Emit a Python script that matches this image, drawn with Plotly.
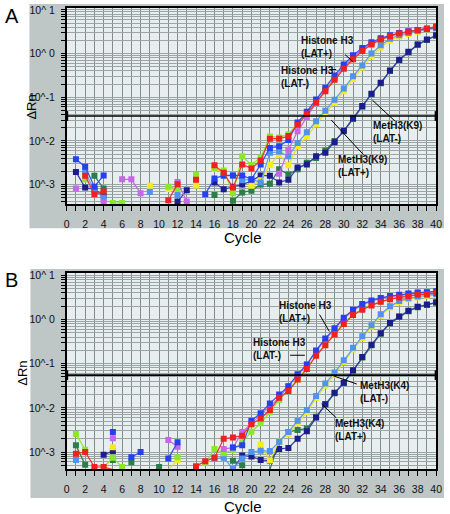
import plotly.graph_objects as go

W, H = 450, 514
N = None
cycles = list(range(1, 41))

# ---------------- Panel A : log10(dRn) per cycle 1..40 ----------------
a_red = [N, -2.80, -3.22, -3.16, N, N, N, N, N, N, -3.36, -2.99, N, -2.89, N, -2.56, -2.73, -3.07, -2.54, -2.63,
         -2.45, -1.95, -1.95, -1.89, -1.63, -1.38, -1.12, -0.86, -0.60, -0.35, -0.13, 0.06, 0.21, 0.32, 0.40, 0.46, 0.50, 0.54, 0.57, 0.62]
a_blue = [-2.42, -2.59, -3.05, -2.79, N, N, N, N, N, N, N, N, N, N, -3.22, -2.86, -2.79, -2.79, -2.79, -2.88,
          -2.54, -2.16, -2.12, -1.98, -1.58, -1.33, -1.05, -0.78, -0.50, -0.25, -0.04, 0.13, 0.26, 0.35, 0.42, 0.47, 0.51, 0.54, 0.57, 0.60]
a_lime = [N, -2.88, N, N, -3.42, -3.42, N, N, N, N, -3.05, -3.10, N, -2.77, N, -2.62, -2.68, -3.20, -2.35, -2.55,
          -2.38, -1.90, -1.92, -1.85, -1.60, -1.35, -1.08, -0.82, -0.56, -0.31, -0.10, 0.08, 0.22, 0.33, 0.41, 0.46, 0.50, 0.54, 0.57, 0.60]
a_violet = [-3.09, N, N, -3.41, N, -2.88, -2.88, -3.20, N, N, N, -2.94, -3.39, N, N, N, N, N, N, N,
            N, N, -2.75, -2.20, -1.78, -1.45, -1.13, -0.84, -0.56, -0.31, -0.08, 0.10, 0.24, 0.34, 0.41, 0.46, 0.50, 0.54, 0.57, 0.60]
a_ltblue = [N, -2.71, -3.14, -3.30, N, N, N, N, -3.17, N, N, -3.24, N, N, N, N, -2.80, -2.79, -2.90, -2.88,
            -2.95, -2.27, -2.25, -2.35, -2.05, -1.80, -1.55, -1.31, -1.06, -0.80, -0.52, -0.27, 0.00, 0.19, 0.34, 0.42, 0.47, 0.52, 0.55, 0.58]
a_yellow = [N, N, N, N, N, N, N, N, -3.03, N, -3.10, -3.11, N, -3.02, N, -2.64, -2.72, N, N, -3.03,
            -2.90, -2.55, -2.31, -2.56, -2.12, -1.90, -1.62, -1.37, -1.12, -0.86, -0.58, -0.32, -0.06, 0.14, 0.30, 0.39, 0.45, 0.50, 0.54, 0.57]
a_navy = [-2.71, -3.07, -3.11, -3.25, N, N, N, N, N, N, N, -3.39, -3.13, N, N, -2.95, -3.11, -3.05, -3.00, -2.92,
          -2.79, -2.80, -2.95, -2.89, -2.61, -2.54, -2.35, -2.27, -2.03, -1.77, -1.48, -1.20, -0.92, -0.67, -0.39, -0.14, 0.04, 0.21, 0.32, 0.42]
a_dkgreen = [N, N, -2.80, -3.09, N, N, N, N, N, N, N, N, N, N, N, -3.24, N, -3.37, -3.18, -3.14,
             -3.00, -2.98, -2.65, -2.77, -2.65, -2.50, -2.39, -2.22, -2.00, -1.78, -1.50, -1.22, -0.93, -0.68, -0.40, -0.15, 0.03, 0.20, 0.31, 0.41]

# ---------------- Panel B ----------------
b_red = [-3.04, -3.00, -3.34, -3.34, -3.40, N, N, N, N, N, N, N, N, -3.32, -3.21, -3.13, -2.70, -2.67, -2.63, -2.37,
         -2.24, -2.05, -1.77, -1.62, -1.36, -1.12, -0.82, -0.58, -0.34, -0.10, 0.10, 0.22, 0.32, 0.40, 0.46, 0.50, 0.53, 0.56, 0.58, 0.60]
b_blue = [N, N, N, N, -2.55, N, -3.12, -3.00, N, N, -3.15, -2.78, N, N, N, N, N, -2.90, -2.85, -2.29,
          -2.12, -1.90, -1.70, -1.51, -1.24, -1.02, -0.70, -0.43, -0.20, 0.04, 0.22, 0.35, 0.43, 0.49, 0.53, 0.56, 0.59, 0.61, 0.62, 0.64]
b_lime = [-2.59, -2.95, N, -3.34, -3.13, -3.34, N, N, N, N, N, -3.12, N, N, -3.25, -2.93, -3.03, -2.95, -2.78, -2.54,
          -2.35, -2.10, -1.82, -1.60, -1.35, -1.10, -0.80, -0.56, -0.32, -0.08, 0.12, 0.24, 0.34, 0.41, 0.47, 0.51, 0.54, 0.57, 0.59, 0.61]
b_violet = [-3.40, N, N, N, -2.69, N, N, N, N, N, -2.73, -2.88, N, N, N, N, -2.93, -2.90, -2.55, -2.35,
            -2.14, -1.96, -1.77, -1.51, -1.26, -1.02, -0.72, -0.45, -0.22, 0.02, 0.20, 0.33, 0.42, 0.48, 0.52, 0.55, 0.58, 0.60, 0.61, 0.63]
b_ltblue = [-3.18, N, N, N, N, N, N, N, N, N, N, N, N, N, N, -3.15, -3.13, -3.38, -3.15, -3.00,
            -2.97, -2.98, -2.76, -2.55, -2.29, -2.05, -1.73, -1.45, -1.20, -0.92, -0.64, -0.38, -0.13, 0.12, 0.30, 0.42, 0.48, 0.52, 0.55, 0.57]
b_yellow = [N, N, N, N, -2.89, N, N, N, N, N, -3.40, -3.18, N, N, -3.25, N, N, N, N, N,
            -2.83, -3.19, -2.75, -2.60, -2.35, -2.10, -1.78, -1.50, -1.25, -0.96, -0.68, -0.42, -0.16, 0.09, 0.27, 0.39, 0.46, 0.50, 0.53, 0.56]
b_navy = [N, N, N, -3.06, -2.98, N, N, N, N, N, N, N, N, N, N, N, N, -3.39, -3.08, -3.10,
          -3.18, -3.20, -2.93, -2.91, -2.70, -2.53, -2.22, -1.92, -1.66, -1.43, -1.15, -0.85, -0.57, -0.31, -0.08, 0.07, 0.20, 0.29, 0.34, 0.39]
b_dkgreen = [-2.85, -3.29, N, N, -3.18, N, -3.23, N, N, -3.34, N, N, N, N, N, N, N, -3.20, -3.30, N,
             N, -3.40, -2.76, -2.55, -2.50, -2.47, -2.20, -1.92, -1.67, -1.44, -1.16, -0.86, -0.58, -0.32, -0.09, 0.06, 0.19, 0.28, 0.33, 0.38]

thresholds = {"A": 10 ** -1.43, "B": 10 ** -1.26}
ytick_labels = {1: "10^ 1", 0: "10^ 0", -1: "10^-1", -2: "10^-2", -3: "10^-3"}
xtick_labels = [str(v) if v % 2 == 0 else "" for v in range(0, 41)]

colors = {
    "dkgreen": "#2b7d4c", "navy": "#1c1c8e", "yellow": "#f4ec1c", "ltblue": "#4f92f0",
    "lime": "#8ae82a", "violet": "#c865ea", "blue": "#2440f0", "red": "#f02020",
}
line_colors = {
    "dkgreen": "#2b7d4c", "navy": "#3a3ab0", "yellow": "#e8e020", "ltblue": "#5e9cf2",
    "lime": "#8ae82a", "violet": "#c865ea", "blue": "#3050f0", "red": "#f03030",
}
order = ["dkgreen", "navy", "yellow", "ltblue", "lime", "violet", "blue", "red"]
panelA = {"red": a_red, "blue": a_blue, "lime": a_lime, "violet": a_violet,
          "ltblue": a_ltblue, "yellow": a_yellow, "navy": a_navy, "dkgreen": a_dkgreen}
panelB = {"red": b_red, "blue": b_blue, "lime": b_lime, "violet": b_violet,
          "ltblue": b_ltblue, "yellow": b_yellow, "navy": b_navy, "dkgreen": b_dkgreen}

fig = go.Figure()
for panel, ax in ((panelA, ("x", "y")), (panelB, ("x2", "y2"))):
    for key in order:
        vals = [None if v is None else 10 ** v for v in panel[key]]
        fig.add_trace(go.Scatter(
            x=cycles, y=vals, xaxis=ax[0], yaxis=ax[1], mode="lines+markers",
            line=dict(color=line_colors[key], width=1.2),
            marker=dict(symbol="square", size=6, color=colors[key], line=dict(width=0)),
            showlegend=False, hoverinfo="skip"))

for name, ax in (("A", ("x", "y")), ("B", ("x2", "y2"))):
    t = thresholds[name]
    fig.add_trace(go.Scatter(
        x=[0, 40], y=[t, t], xaxis=ax[0], yaxis=ax[1], mode="lines+markers",
        line=dict(color="black", width=1.6),
        marker=dict(symbol="line-ns", size=7, line=dict(color="black", width=3)),
        cliponaxis=False, showlegend=False, hoverinfo="skip"))

def px(x):
    return x / W

def py(y):
    return 1 - y / H

font = "Liberation Sans, Arial, sans-serif"
ytickvals = [m * 10 ** d for d in range(-4, 2) for m in range(1, 10)]
yticktext = [ytick_labels.get(d, "") if m == 1 else "" for d in range(-4, 2) for m in range(1, 10)]

x_dom = [px(65), px(442)]
yA_dom = [py(202), py(4)]
yB_dom = [py(469), py(271)]

xcommon = dict(range=[0, 40], tickmode="array", tickvals=list(range(0, 41)), ticktext=xtick_labels,
               showgrid=True, gridcolor="#818d8d", gridwidth=1, ticks="outside", ticklen=5,
               tickcolor="black", tickwidth=1, showline=True, linecolor="black", linewidth=1.5,
               mirror=True, zeroline=False, tickfont=dict(family=font, size=10.5, color="#111"),
               ticklabelstandoff=4, domain=x_dom)
ycommon = dict(type="log", tickmode="array", tickvals=ytickvals, ticktext=yticktext,
               showgrid=True, gridcolor="#9aa6a6", gridwidth=1, ticks="outside", ticklen=4,
               tickcolor="black", tickwidth=1, showline=True, linecolor="black", linewidth=1.5,
               mirror=True, zeroline=False, ticklabelstandoff=4,
               tickfont=dict(family=font, size=10.5, color="#111"))

fig.update_layout(
    width=W, height=H, margin=dict(l=0, r=0, t=0, b=0),
    paper_bgcolor="white", plot_bgcolor="#e8eded",
    xaxis=dict(xcommon, anchor="y"),
    yaxis=dict(ycommon, range=[-3.455, 1.045], domain=yA_dom, anchor="x"),
    xaxis2=dict(xcommon, anchor="y2"),
    yaxis2=dict(ycommon, range=[-3.393, 1.056], domain=yB_dom, anchor="x2"),
)

shapes = [
    dict(type="rect", xref="paper", yref="paper", x0=px(27), x1=1.0, y0=py(226), y1=1.0,
         fillcolor="#bec6c6", line=dict(width=0), layer="below"),
    dict(type="rect", xref="paper", yref="paper", x0=px(28), x1=1.0, y0=py(498), y1=py(267),
         fillcolor="#bec6c6", line=dict(width=0), layer="below"),
    dict(type="rect", xref="x domain", yref="y domain", x0=0, x1=1, y0=0, y1=1,
         fillcolor="#e8eded", line=dict(width=0), layer="below"),
    dict(type="rect", xref="x2 domain", yref="y2 domain", x0=0, x1=1, y0=0, y1=1,
         fillcolor="#e8eded", line=dict(width=0), layer="below"),
]
leaders = [((349, 51), (357, 58)), ((333, 66), (340, 66)), ((377, 97), (400, 118)), ((335, 117), (368, 152)),
           ((323, 313), (333, 330)), ((293, 354), (308, 354)), ((335, 374), (361, 383)), ((325, 403), (340, 417))]
for (x0, y0), (x1, y1) in leaders:
    shapes.append(dict(type="line", xref="paper", yref="paper", x0=px(x0), y0=py(y0), x1=px(x1), y1=py(y1),
                       line=dict(color="black", width=1)))
fig.update_layout(shapes=shapes)

labels = [("Histone H3<br>(LAT+)", 302, 29), ("Histone H3<br>(LAT-)", 282, 59),
          ("MetH3(K9)<br>(LAT-)", 375, 115), ("MetH3(K9)<br>(LAT+)", 340, 149),
          ("Histone H3<br>(LAT+)", 280, 296), ("Histone H3<br>(LAT-)", 253, 334),
          ("MetH3(K4)<br>(LAT-)", 362, 377), ("MetH3(K4)<br>(LAT+)", 337, 415)]
ann = []
for txt, x, y in labels:
    ann.append(dict(text="<b>%s</b>" % txt, xref="paper", yref="paper", x=px(x), y=py(y),
                    xanchor="left", yanchor="top", align="left", showarrow=False,
                    font=dict(family=font, size=10, color="#111")))
for letter, y in (("A", -1), ("B", 265)):
    ann.append(dict(text=letter, xref="paper", yref="paper", x=px(0), y=py(y), xanchor="left",
                    yanchor="top", showarrow=False, font=dict(family=font, size=20, color="black")))
for y in (235, 506):
    ann.append(dict(text="Cycle", xref="paper", yref="paper", x=px(245), y=py(y), xanchor="center",
                    yanchor="middle", showarrow=False, font=dict(family=font, size=15, color="black")))
for x, y in ((29, 104), (19, 372)):
    ann.append(dict(text="ΔRn", xref="paper", yref="paper", x=px(x), y=py(y), xanchor="center",
                    yanchor="middle", textangle=-90, showarrow=False,
                    font=dict(family=font, size=13, color="black")))
fig.update_layout(annotations=ann)

fig.write_html("out.html", config={"displayModeBar": False},
               post_script="document.body.style.margin='0';document.body.style.padding='0';"
                           "document.documentElement.style.overflow='hidden';")
